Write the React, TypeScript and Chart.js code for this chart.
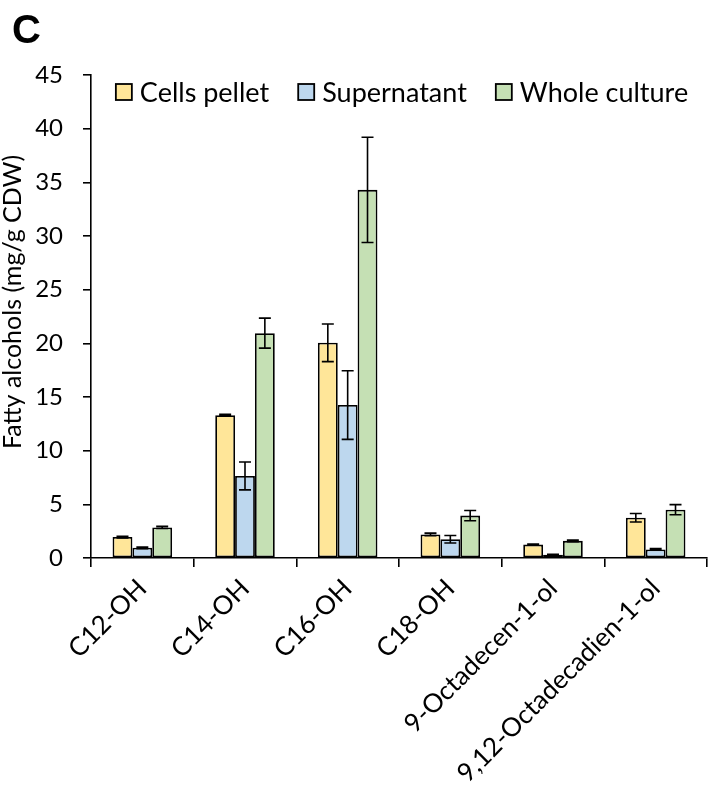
import React, { useEffect, useRef } from "react";
import { Chart, registerables } from "chart.js";

Chart.register(...registerables);

const categories = [
  "C12-OH",
  "C14-OH",
  "C16-OH",
  "C18-OH",
  "9-Octadecen-1-ol",
  "9,12-Octadecadien-1-ol",
];

const seriesNames = ["Cells pellet", "Supernatant", "Whole culture"];
const seriesColors = ["#FFE699", "#BDD7EE", "#C5E0B4"];

const cellsPellet = [1.95, 13.3, 20.05, 2.2, 1.25, 3.75];
const supernatant = [0.95, 7.65, 14.25, 1.75, 0.3, 0.8];
const wholeCulture = [2.85, 20.95, 34.3, 3.95, 1.6, 4.5];

const cellsPelletErr = [0.08, 0.08, 1.75, 0.12, 0.06, 0.4];
const supernatantErr = [0.08, 1.3, 3.2, 0.35, 0.04, 0.07];
const wholeCultureErr = [0.1, 1.4, 4.9, 0.48, 0.07, 0.47];

const yTicks = [0, 5, 10, 15, 20, 25, 30, 35, 40, 45];

const seriesValues = [cellsPellet, supernatant, wholeCulture];
const seriesErrors = [cellsPelletErr, supernatantErr, wholeCultureErr];

const FONT = "Lato";

// whiskers with caps on every bar
const errorBarPlugin = {
  id: "errorBars",
  afterDatasetsDraw(chart: any) {
    const { ctx } = chart;
    const y = chart.scales.y;
    ctx.save();
    ctx.strokeStyle = "#000";
    ctx.lineWidth = 1.6;
    chart.data.datasets.forEach((ds: any, di: number) => {
      const meta = chart.getDatasetMeta(di);
      const errs = seriesErrors[di];
      meta.data.forEach((bar: any, i: number) => {
        const v = ds.data[i];
        const e = errs[i];
        const top = y.getPixelForValue(v + e);
        const bot = y.getPixelForValue(v - e);
        const x = bar.x;
        const cap = 6;
        ctx.beginPath();
        ctx.moveTo(x, top);
        ctx.lineTo(x, bot);
        ctx.moveTo(x - cap, top);
        ctx.lineTo(x + cap, top);
        ctx.moveTo(x - cap, bot);
        ctx.lineTo(x + cap, bot);
        ctx.stroke();
      });
    });
    ctx.restore();
  },
};

// panel letter, y-axis title and the in-plot legend
const decorPlugin = {
  id: "decor",
  afterDraw(chart: any) {
    const { ctx, chartArea } = chart;
    ctx.save();
    ctx.fillStyle = "#000";

    ctx.font = `bold 40px "Liberation Sans", Arial, sans-serif`;
    ctx.textAlign = "left";
    ctx.textBaseline = "alphabetic";
    ctx.fillText("C", 12, 43);

    ctx.save();
    ctx.translate(13, 302);
    ctx.rotate(-Math.PI / 2);
    ctx.font = `25px ${FONT}`;
    ctx.textAlign = "center";
    ctx.textBaseline = "middle";
    ctx.fillText("Fatty alcohols (mg/g CDW)", 0, 0);
    ctx.restore();

    ctx.font = `27px ${FONT}`;
    ctx.textBaseline = "middle";
    const box = 16;
    const gap = 8;
    const spacing = 29;
    const widths = seriesNames.map((n) => ctx.measureText(n).width);
    const total =
      widths.reduce((a, b) => a + b, 0) + seriesNames.length * (box + gap) + spacing * (seriesNames.length - 1);
    let x = (chartArea.left + chartArea.right) / 2 - total / 2 + 3;
    const cy = 92;
    seriesNames.forEach((name, i) => {
      ctx.fillStyle = seriesColors[i];
      ctx.fillRect(x, cy - box / 2, box, box);
      ctx.strokeStyle = "#000";
      ctx.lineWidth = 1.8;
      ctx.strokeRect(x, cy - box / 2, box, box);
      ctx.fillStyle = "#000";
      ctx.textAlign = "left";
      ctx.fillText(name, x + box + gap, cy + 1);
      x += box + gap + widths[i] + spacing;
    });
    ctx.restore();
  },
};

export default function App() {
  const canvasRef = useRef<HTMLCanvasElement | null>(null);

  useEffect(() => {
    if (!canvasRef.current) return;
    const chart = new Chart(canvasRef.current, {
      type: "bar",
      data: {
        labels: categories,
        datasets: seriesNames.map((name, i) => ({
          label: name,
          data: seriesValues[i],
          backgroundColor: seriesColors[i],
          borderColor: "#000",
          borderWidth: 1.8,
          borderSkipped: false,
          categoryPercentage: 0.58,
          barPercentage: 1,
        })),
      },
      options: {
        responsive: false,
        animation: false,
        layout: { padding: { top: 75, right: 1, left: 0, bottom: 0 } },
        plugins: {
          legend: { display: false },
          tooltip: { enabled: false },
        },
        scales: {
          x: {
            grid: {
              offset: true,
              drawOnChartArea: false,
              tickLength: 9,
              color: "#000",
              lineWidth: 1.6,
            },
            border: { color: "#000", width: 1.6 },
            ticks: {
              color: "#000",
              font: { family: FONT, size: 26 },
              maxRotation: 45,
              minRotation: 45,
              padding: 6,
            },
            afterFit(scale: any) {
              scale.height = 795 - 558;
            },
          },
          y: {
            min: 0,
            max: 45,
            afterBuildTicks(scale: any) {
              scale.ticks = yTicks.map((v) => ({ value: v }));
            },
            grid: {
              drawOnChartArea: false,
              tickLength: 8,
              color: "#000",
              lineWidth: 1.6,
            },
            border: { color: "#000", width: 1.6 },
            ticks: {
              color: "#000",
              font: { family: FONT, size: 24 },
              padding: 20,
            },
            afterFit(scale: any) {
              scale.width = 91;
            },
          },
        },
      },
      plugins: [errorBarPlugin, decorPlugin],
    });
    return () => chart.destroy();
  }, []);

  return (
    <div style={{ position: "fixed", left: 0, top: 0, width: 708, height: 795, background: "#fff" }}>
      <canvas ref={canvasRef} width={708} height={795} />
    </div>
  );
}
